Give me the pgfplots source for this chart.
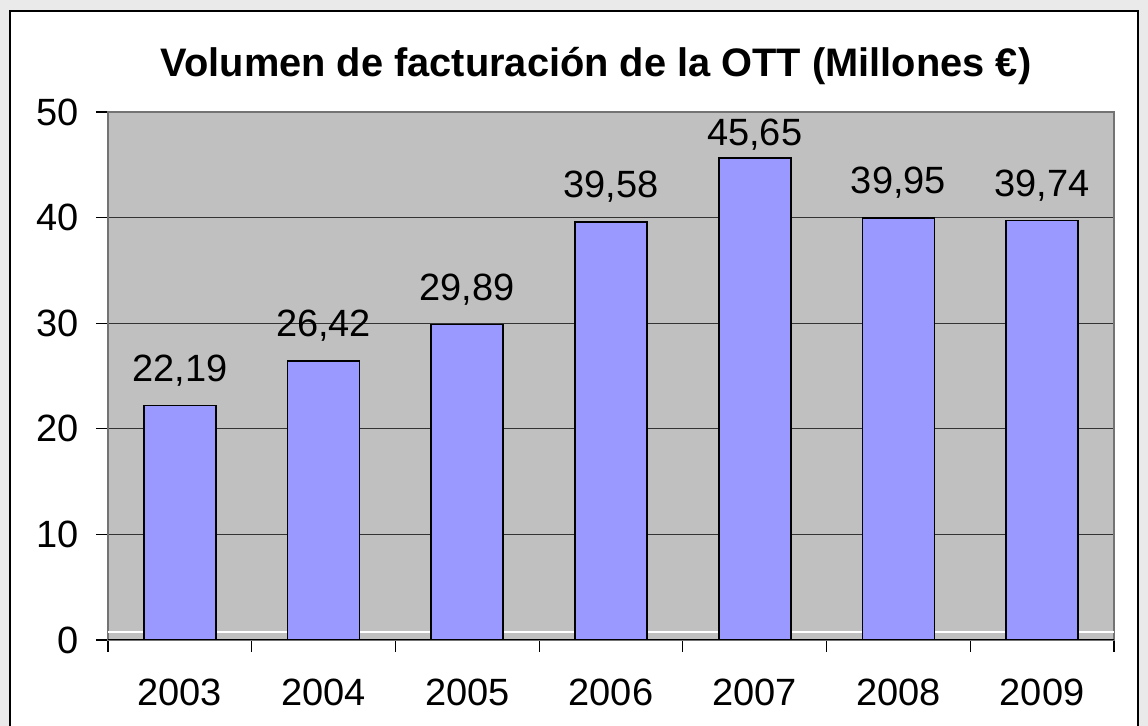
\documentclass[border=0pt]{standalone}
\usepackage{pgfplots}
\usepackage{pgfplotstable}
\pgfplotsset{compat=1.18}
\usepackage{fontspec}
\setmainfont{Liberation Sans}
\definecolor{barblue}{HTML}{9999FF}
\definecolor{plotgray}{HTML}{C0C0C0}
\definecolor{outergray}{HTML}{EAEAEA}
\pgfplotstableread{
x y s
0 22.19 6
1 26.42 6
2 29.89 6
3 39.58 6
4 45.65 0
5 39.95 6
6 39.74 6
}\datatable
\begin{document}
\begin{tikzpicture}[x=0.5pt,y=0.5pt]
\useasboundingbox (0,0) rectangle (1148,726);
\fill[outergray] (0,0) rectangle (1148,726);
\fill[white,draw=black,line width=0.6pt] (10,-10) rectangle (1138,715);
\node[font=\fontsize{19.9}{23}\selectfont\bfseries] at (596,660) {Volumen de facturación de la OTT (Millones €)};
\begin{axis}[
  at={(54pt,43pt)}, anchor=south west,
  scale only axis, width=503pt, height=264pt,
  xmin=-0.5, xmax=6.5, ymin=0, ymax=50,
  xtick={-0.5,0.5,...,6.5},
  x tick label as interval,
  xticklabels={2003,2004,2005,2006,2007,2008,2009},
  ytick={0,10,...,50},
  tick align=outside, tick pos=left,
  major tick length=6pt,
  tick style={black, line width=0.6pt},
  tick label style={font=\fontsize{19}{22}\selectfont},
  xticklabel style={yshift=-10pt},
  yticklabel style={xshift=-5pt},
  /pgf/number format/assume math mode=true,
  ymajorgrids,
  major grid style={black!80, line width=0.6pt},
  extra y ticks={0.75},
  extra y tick labels={},
  extra y tick style={grid=major, major grid style={white, line width=0.8pt}, major tick length=0pt},
  axis background/.style={fill=plotgray},
  axis line style={draw=black!55, line width=0.8pt},
]
\addplot[ybar, bar width=36pt, fill=barblue, draw=black, line width=0.8pt,
  visualization depends on={\thisrow{s} \as \myshift},
  nodes near coords,
  nodes near coords style={font=\fontsize{19}{22}\selectfont, yshift=\myshift pt, text=black,
    /pgf/number format/.cd, fixed, fixed zerofill, precision=2, use comma, assume math mode=true}]
  table[x=x, y=y] {\datatable};
\draw[black, line width=0.8pt] (axis cs:-0.5,0) -- (axis cs:6.5,0);
\end{axis}
\end{tikzpicture}
\end{document}
